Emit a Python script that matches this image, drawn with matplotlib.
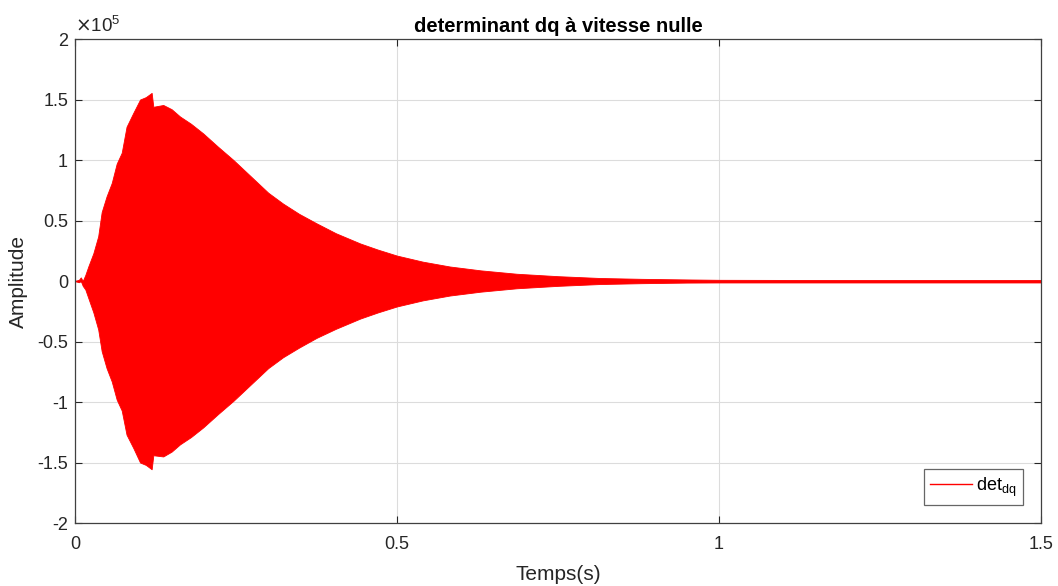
import matplotlib
matplotlib.use("Agg")
import matplotlib.pyplot as plt
import numpy as np

# envelope of det_dq (time in s, amplitude in units of 1e5)
t_env = [0.0, 0.006, 0.009, 0.012, 0.016, 0.0206, 0.0285, 0.036, 0.0414, 0.049,
         0.057, 0.0647, 0.0725, 0.080, 0.0905, 0.101, 0.110, 0.119, 0.1216,
         0.137, 0.150, 0.163, 0.180, 0.199, 0.222, 0.246, 0.262, 0.282, 0.300,
         0.323, 0.348, 0.375, 0.405, 0.443, 0.470, 0.500, 0.540, 0.582, 0.630,
         0.686, 0.750, 0.815, 0.880, 0.950, 1.0, 1.2, 1.5]
env_up = [0.0, 0.01, 0.03, 0.0, 0.05, 0.12, 0.23, 0.37, 0.57, 0.70,
          0.81, 0.97, 1.06, 1.275, 1.39, 1.50, 1.52, 1.555, 1.44,
          1.455, 1.42, 1.36, 1.30, 1.22, 1.11, 1.00, 0.92, 0.82, 0.73,
          0.64, 0.555, 0.477, 0.395, 0.31, 0.26, 0.21, 0.16, 0.12, 0.088,
          0.06, 0.04, 0.025, 0.018, 0.013, 0.01, 0.008, 0.008]
env_low = [0.0, -0.01, 0.0, -0.04, -0.07, -0.14, -0.26, -0.40, -0.58, -0.72,
           -0.83, -0.98, -1.07, -1.27, -1.38, -1.50, -1.52, -1.556, -1.44,
           -1.45, -1.41, -1.35, -1.29, -1.21, -1.10, -0.99, -0.91, -0.81, -0.72,
           -0.63, -0.55, -0.47, -0.395, -0.31, -0.26, -0.21, -0.16, -0.12, -0.088,
           -0.06, -0.04, -0.025, -0.018, -0.013, -0.012, -0.012, -0.012]

x_ticks = [0, 0.5, 1, 1.5]
x_labels = ["0", "0.5", "1", "1.5"]
y_ticks = [-2, -1.5, -1, -0.5, 0, 0.5, 1, 1.5, 2]
y_labels = ["-2", "-1.5", "-1", "-0.5", "0", "0.5", "1", "1.5", "2"]

plt.rcParams['font.family'] = ['Liberation Sans', 'DejaVu Sans']
txt = '#262626'

fig = plt.figure(figsize=(10.58, 5.86), dpi=100)
ax = fig.add_axes([0.0709, 0.1075, 0.9131, 0.8259])

scale = 1e5
t = np.array(t_env)
ax.fill_between(t, np.array(env_low) * scale, np.array(env_up) * scale,
                color='#ff0000', lw=0.6, edgecolor='#ff0000')
ax.plot(t, np.zeros_like(t), color='#ff0000', lw=1.0, label='det$_{\\mathregular{dq}}$')

ax.set_xlim(0, 1.5)
ax.set_ylim(-2 * scale, 2 * scale)
ax.set_xticks(x_ticks)
ax.set_xticklabels(x_labels)
ax.set_yticks([v * scale for v in y_ticks])
ax.set_yticklabels(y_labels)
ax.tick_params(direction='in', length=5, width=0.8, colors=txt, labelsize=13,
               top=True, right=True)
ax.tick_params(axis='x', pad=9)
ax.tick_params(axis='y', pad=5)
ax.grid(True, color='#dcdcdc', lw=0.8)
ax.set_axisbelow(True)
for s in ax.spines.values():
    s.set_color('#404040')
    s.set_linewidth(0.9)

ax.set_title('determinant dq à vitesse nulle', fontsize=14.5, fontweight='bold',
             color='black', pad=5)
ax.set_xlabel('Temps(s)', fontsize=15, color=txt, labelpad=9)
ax.set_ylabel('Amplitude', fontsize=15, color=txt, labelpad=7)
ax.text(0.0, 1.006, '$\\times\\mathregular{10^5}$', transform=ax.transAxes,
        fontsize=13.5, color=txt, ha='left', va='bottom')

leg = ax.legend(loc='lower right', fontsize=13, frameon=True, fancybox=False,
                handlelength=2.3, handletextpad=0.25, borderpad=0.35,
                borderaxespad=1.0)
leg.get_frame().set_edgecolor('#404040')
leg.get_frame().set_linewidth(0.9)

fig.savefig('out.png', dpi=100)
